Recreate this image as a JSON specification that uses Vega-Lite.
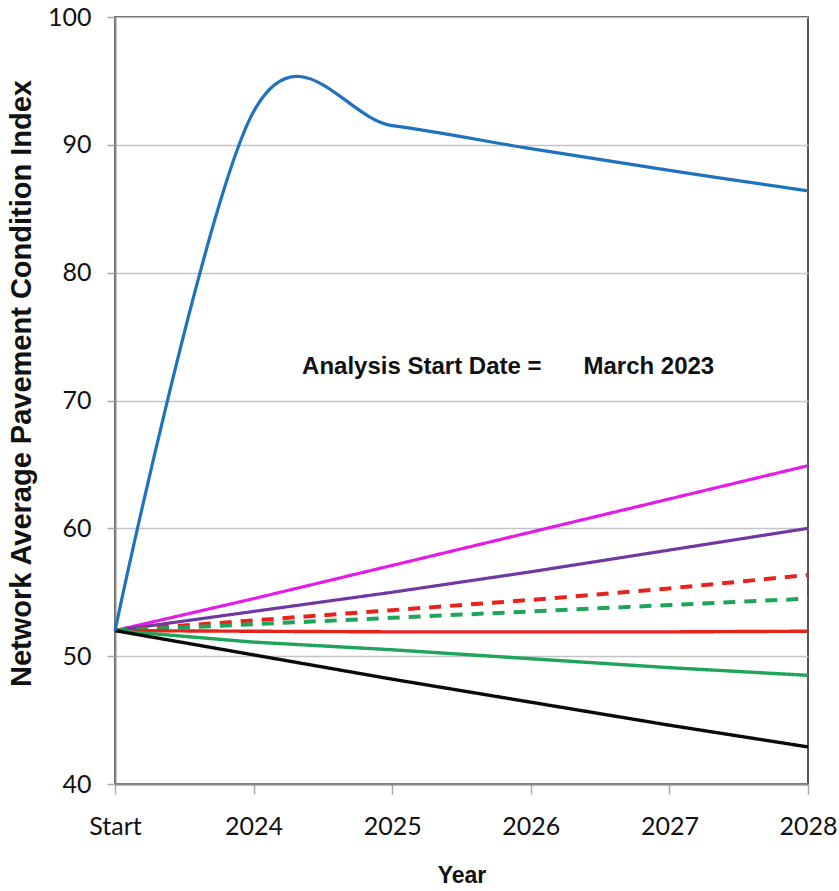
{
  "$schema": "https://vega.github.io/schema/vega-lite/v6.json",
  "width": 693,
  "height": 767,
  "autosize": "none",
  "padding": {"left": 115, "top": 17, "right": 31, "bottom": 107},
  "background": "white",
  "config": {
    "view": {"stroke": "#555555", "strokeWidth": 2},
    "axis": {"labelFont": "Lato", "labelFontSize": 25, "labelColor": "#111111", "titleFont": "Liberation Sans", "titleFontWeight": "bold", "titleColor": "#111111"}
  },
  "datasets": {
    "lines": [
      {"series": "A", "year": 2023, "value": 52},
      {"series": "A", "year": 2024, "value": 92.6},
      {"series": "A", "year": 2025, "value": 91.5},
      {"series": "A", "year": 2026, "value": 89.7},
      {"series": "A", "year": 2027, "value": 88.0},
      {"series": "A", "year": 2028, "value": 86.4},
      {"series": "B", "year": 2023, "value": 52},
      {"series": "B", "year": 2024, "value": 54.5},
      {"series": "B", "year": 2025, "value": 57.1},
      {"series": "B", "year": 2026, "value": 59.7},
      {"series": "B", "year": 2027, "value": 62.3},
      {"series": "B", "year": 2028, "value": 64.9},
      {"series": "C", "year": 2023, "value": 52},
      {"series": "C", "year": 2024, "value": 53.5},
      {"series": "C", "year": 2025, "value": 55.0},
      {"series": "C", "year": 2026, "value": 56.6},
      {"series": "C", "year": 2027, "value": 58.3},
      {"series": "C", "year": 2028, "value": 60.0},
      {"series": "D", "year": 2023, "value": 52},
      {"series": "D", "year": 2024, "value": 52.8},
      {"series": "D", "year": 2025, "value": 53.6},
      {"series": "D", "year": 2026, "value": 54.4},
      {"series": "D", "year": 2027, "value": 55.3},
      {"series": "D", "year": 2028, "value": 56.35},
      {"series": "E", "year": 2023, "value": 52},
      {"series": "E", "year": 2024, "value": 52.5},
      {"series": "E", "year": 2025, "value": 53.0},
      {"series": "E", "year": 2026, "value": 53.5},
      {"series": "E", "year": 2027, "value": 54.0},
      {"series": "E", "year": 2028, "value": 54.5},
      {"series": "F", "year": 2023, "value": 52},
      {"series": "F", "year": 2024, "value": 51.95},
      {"series": "F", "year": 2025, "value": 51.9},
      {"series": "F", "year": 2026, "value": 51.9},
      {"series": "F", "year": 2027, "value": 51.9},
      {"series": "F", "year": 2028, "value": 51.95},
      {"series": "G", "year": 2023, "value": 52},
      {"series": "G", "year": 2024, "value": 51.1},
      {"series": "G", "year": 2025, "value": 50.5},
      {"series": "G", "year": 2026, "value": 49.8},
      {"series": "G", "year": 2027, "value": 49.1},
      {"series": "G", "year": 2028, "value": 48.5},
      {"series": "H", "year": 2023, "value": 52},
      {"series": "H", "year": 2024, "value": 50.1},
      {"series": "H", "year": 2025, "value": 48.2},
      {"series": "H", "year": 2026, "value": 46.4},
      {"series": "H", "year": 2027, "value": 44.6},
      {"series": "H", "year": 2028, "value": 42.9}
    ],
    "notes": [
      {"label": "Analysis Start Date =", "year": 2024.35, "value": 72.6},
      {"label": "March 2023", "year": 2026.38, "value": 72.6}
    ]
  },
  "encoding": {
    "x": {
      "field": "year", "type": "quantitative",
      "scale": {"domain": [2023, 2028], "nice": false, "zero": false},
      "axis": {
        "title": "Year", "titleFontSize": 23, "values": [2023, 2024, 2025, 2026, 2027, 2028],
        "labelExpr": "datum.value == 2023 ? 'Start' : format(datum.value, 'd')",
        "grid": false, "domainColor": "#8a8a8a", "domainWidth": 2,
        "tickColor": "#aaaaaa", "tickWidth": 1.5, "tickSize": 10,
        "labelPadding": 20, "titlePadding": 25, "labelFlush": false
      }
    },
    "y": {
      "field": "value", "type": "quantitative",
      "scale": {"domain": [40, 100], "nice": false, "zero": false},
      "axis": {
        "title": "Network Average Pavement Condition Index", "titleFontSize": 29,
        "titleY": 366,
        "values": [40, 50, 60, 70, 80, 90, 100],
        "grid": true, "gridColor": "#c4c4c4", "gridWidth": 1.5,
        "domainColor": "#8a8a8a", "domainWidth": 2,
        "tickColor": "#aaaaaa", "tickWidth": 1.5, "tickSize": 8,
        "labelPadding": 16, "titlePadding": 11
      }
    }
  },
  "layer": [
    {
      "data": {"name": "lines"},
      "transform": [{"filter": "datum.series != 'A'"}],
      "mark": {"type": "line"},
      "encoding": {
        "detail": {"field": "series"},
        "color": {
          "field": "series", "type": "nominal", "legend": null,
          "scale": {"domain": ["A", "B", "C", "D", "E", "F", "G", "H"],
                    "range": ["#1f72bd", "#e21ee6", "#7038a0", "#e8231e", "#1fa55a", "#e8231e", "#1fa55a", "#0a0a0a"]}
        },
        "strokeDash": {
          "field": "series", "type": "nominal", "legend": null,
          "scale": {"domain": ["B", "C", "D", "E", "F", "G", "H"],
                    "range": [[1, 0], [1, 0], [12, 9], [12, 9], [1, 0], [1, 0], [1, 0]]}
        },
        "strokeWidth": {
          "field": "series", "type": "nominal", "legend": null,
          "scale": {"type": "ordinal", "domain": ["B", "C", "D", "E", "F", "G", "H"],
                    "range": [3.2, 3.2, 4, 4, 3.4, 3.4, 3.4]}
        }
      }
    },
    {
      "data": {"name": "lines"},
      "transform": [{"filter": "datum.series == 'A'"}],
      "mark": {"type": "line", "strokeWidth": 3.2, "interpolate": "cardinal", "color": "#1f72bd"}
    },
    {
      "data": {"name": "notes"},
      "mark": {"type": "text", "align": "left", "baseline": "middle", "font": "Liberation Sans", "fontWeight": "bold", "fontSize": 24, "color": "#111111"},
      "encoding": {"text": {"field": "label"}}
    }
  ]
}
